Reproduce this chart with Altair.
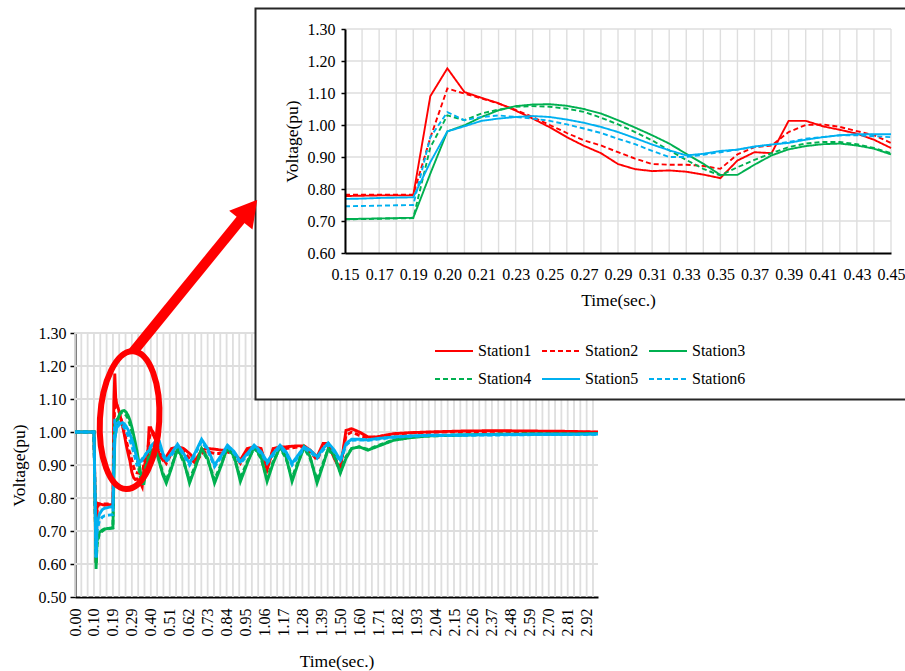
import altair as alt
import pandas as pd

FONT = "Liberation Serif"
STATIONS = ["Station1", "Station2", "Station3", "Station4", "Station5", "Station6"]
COLORS = ["#FF0000", "#FF0000", "#00B050", "#00B050", "#00B0F0", "#00B0F0"]
DASHES = [[1, 0], [5, 3], [1, 0], [5, 3], [1, 0], [5, 3]]

# ---------------- axis tick labels ----------------
MAIN_TICKS = [0.00, 0.10, 0.19, 0.29, 0.40, 0.51, 0.62, 0.73, 0.84, 0.95, 1.06, 1.17, 1.28, 1.39,
              1.50, 1.60, 1.71, 1.82, 1.93, 2.04, 2.15, 2.26, 2.37, 2.48, 2.59, 2.70, 2.81, 2.92]
MAIN_T_END = 2.985
MAIN_Y_TICKS = [0.50, 0.60, 0.70, 0.80, 0.90, 1.00, 1.10, 1.20, 1.30]
INSET_TICKS = [0.15, 0.17, 0.19, 0.20, 0.21, 0.23, 0.25, 0.27, 0.29, 0.31, 0.33, 0.35, 0.37,
               0.39, 0.41, 0.43, 0.45]
INSET_Y_TICKS = [0.60, 0.70, 0.80, 0.90, 1.00, 1.10, 1.20, 1.30]

# ---------------- data ----------------
PRE_T = [0.00, 0.10, 0.11, 0.115, 0.125, 0.14]
PRE_V = {
    "Station1": [1.0, 1.0, 0.66, 0.785, 0.782, 0.78],
    "Station2": [1.0, 1.0, 0.60, 0.77, 0.782, 0.782],
    "Station3": [1.0, 1.0, 0.585, 0.67, 0.695, 0.703],
    "Station4": [1.0, 1.0, 0.60, 0.66, 0.69, 0.70],
    "Station5": [1.0, 1.0, 0.62, 0.72, 0.75, 0.765],
    "Station6": [1.0, 1.0, 0.62, 0.70, 0.73, 0.742],
}

INSET_T = [0.15, 0.16, 0.17, 0.18, 0.19, 0.195, 0.20, 0.205, 0.21, 0.22, 0.23, 0.24, 0.25, 0.26,
           0.27, 0.28, 0.29, 0.30, 0.31, 0.32, 0.33, 0.34, 0.35, 0.36, 0.37, 0.38, 0.39, 0.40,
           0.41, 0.42, 0.43, 0.44, 0.45]
INSET_V = {
    "Station1": [0.778, 0.779, 0.78, 0.78, 0.78, 1.09, 1.177, 1.103, 1.085, 1.068, 1.045, 1.02,
                 0.993, 0.962, 0.935, 0.912, 0.878, 0.862, 0.856, 0.858, 0.854, 0.845, 0.834,
                 0.889, 0.915, 0.912, 1.013, 1.013, 0.996, 0.985, 0.973, 0.954, 0.928],
    "Station2": [0.782, 0.782, 0.782, 0.782, 0.782, 0.96, 1.114, 1.098, 1.083, 1.067, 1.047,
                 1.025, 1.0, 0.975, 0.952, 0.936, 0.915, 0.895, 0.878, 0.876, 0.876, 0.872,
                 0.863, 0.908, 0.931, 0.936, 0.978, 1.0, 1.002, 0.994, 0.981, 0.968, 0.944],
    "Station3": [0.706, 0.707, 0.708, 0.709, 0.71, 0.848, 0.98, 0.999, 1.025, 1.046, 1.059,
                 1.064, 1.065, 1.06, 1.05, 1.036, 1.015, 0.992, 0.968, 0.942, 0.91, 0.879,
                 0.844, 0.844, 0.876, 0.905, 0.924, 0.934, 0.94, 0.942, 0.936, 0.926, 0.908],
    "Station4": [0.705, 0.706, 0.707, 0.708, 0.709, 0.93, 1.03, 1.015, 1.036, 1.048, 1.057,
                 1.059, 1.057, 1.051, 1.041, 1.023, 1.002, 0.978, 0.952, 0.921, 0.891, 0.863,
                 0.842, 0.868, 0.891, 0.912, 0.931, 0.942, 0.947, 0.947, 0.94, 0.928, 0.912],
    "Station5": [0.769, 0.77, 0.772, 0.773, 0.774, 0.884, 0.98, 0.996, 1.013, 1.02, 1.025,
                 1.028, 1.025, 1.017, 1.007, 0.994, 0.978, 0.959, 0.939, 0.921, 0.905, 0.91,
                 0.919, 0.923, 0.933, 0.939, 0.944, 0.954, 0.962, 0.968, 0.971, 0.971, 0.971],
    "Station6": [0.746, 0.747, 0.748, 0.749, 0.75, 0.962, 1.04, 1.015, 1.025, 1.03, 1.025,
                 1.02, 1.013, 1.002, 0.989, 0.975, 0.957, 0.94, 0.919, 0.9, 0.9, 0.907, 0.915,
                 0.923, 0.931, 0.939, 0.947, 0.957, 0.962, 0.968, 0.968, 0.965, 0.962],
}

POST_T = [0.47, 0.49, 0.52, 0.555, 0.59, 0.625, 0.66, 0.695, 0.73, 0.77, 0.81, 0.845, 0.885,
          0.92, 0.96, 1.00, 1.04, 1.075, 1.11, 1.15, 1.185, 1.22, 1.255, 1.29, 1.325, 1.365,
          1.40, 1.43, 1.465, 1.50, 1.53, 1.56, 1.60, 1.65, 1.70, 1.80, 1.90, 2.00, 2.20, 2.40,
          2.60, 2.80, 2.985]
POST_V = {
    "Station1": [0.915, 0.925, 0.95, 0.955, 0.95, 0.935, 0.915, 0.945, 0.95, 0.948, 0.945,
                 0.945, 0.935, 0.915, 0.95, 0.955, 0.95, 0.885, 0.95, 0.955, 0.955, 0.957,
                 0.958, 0.958, 0.945, 0.925, 0.965, 0.965, 0.92, 0.885, 1.005, 1.01, 1.0,
                 0.985, 0.985, 0.995, 0.998, 1.0, 1.003, 1.004, 1.003, 1.002, 1.0],
    "Station2": [0.92, 0.905, 0.935, 0.94, 0.94, 0.92, 0.905, 0.935, 0.94, 0.935, 0.935, 0.94,
                 0.93, 0.905, 0.945, 0.95, 0.945, 0.895, 0.945, 0.95, 0.95, 0.952, 0.955,
                 0.955, 0.94, 0.915, 0.955, 0.96, 0.925, 0.89, 0.99, 1.0, 0.99, 0.982, 0.985,
                 0.993, 0.997, 0.999, 1.001, 1.002, 1.001, 1.0, 0.999],
    "Station3": [0.87, 0.845, 0.89, 0.95, 0.915, 0.845, 0.895, 0.95, 0.92, 0.845, 0.90, 0.955,
                 0.925, 0.85, 0.905, 0.955, 0.925, 0.85, 0.905, 0.955, 0.925, 0.85, 0.905,
                 0.955, 0.925, 0.845, 0.90, 0.95, 0.93, 0.875, 0.92, 0.95, 0.955, 0.945,
                 0.955, 0.975, 0.983, 0.988, 0.991, 0.993, 0.994, 0.994, 0.995],
    "Station4": [0.875, 0.855, 0.895, 0.948, 0.91, 0.855, 0.90, 0.948, 0.915, 0.855, 0.905,
                 0.952, 0.92, 0.86, 0.91, 0.952, 0.92, 0.86, 0.91, 0.952, 0.92, 0.86, 0.91,
                 0.952, 0.92, 0.855, 0.905, 0.948, 0.925, 0.88, 0.925, 0.95, 0.955, 0.947,
                 0.957, 0.976, 0.984, 0.988, 0.991, 0.993, 0.994, 0.994, 0.995],
    "Station5": [0.935, 0.915, 0.935, 0.963, 0.935, 0.905, 0.94, 0.978, 0.95, 0.9, 0.93, 0.96,
                 0.94, 0.91, 0.935, 0.96, 0.94, 0.91, 0.935, 0.96, 0.94, 0.905, 0.93, 0.955,
                 0.945, 0.925, 0.95, 0.967, 0.945, 0.915, 0.965, 0.978, 0.978, 0.976, 0.98,
                 0.985, 0.988, 0.99, 0.991, 0.992, 0.993, 0.993, 0.994],
    "Station6": [0.93, 0.91, 0.93, 0.958, 0.93, 0.90, 0.935, 0.972, 0.945, 0.895, 0.925, 0.955,
                 0.935, 0.905, 0.93, 0.955, 0.935, 0.905, 0.93, 0.955, 0.935, 0.90, 0.925,
                 0.95, 0.94, 0.92, 0.945, 0.962, 0.94, 0.91, 0.96, 0.975, 0.976, 0.975, 0.978,
                 0.984, 0.987, 0.989, 0.99, 0.991, 0.992, 0.992, 0.993],
}

# highlighted region on the main chart (time, voltage of the ellipse centre)
ELLIPSE_T, ELLIPSE_V = 0.278, 1.036

# ---------------- layout (pixels) ----------------
W, H = 905, 671
MX0, MSTEP, MX1 = 75.0, 18.95, 598.0
MY = [597, 333]
IX0, ISTEP = 345.0, 34.125
IY = [253, 29]
GRID = "#DEDEDE"
RED = "#FF0000"


def station_frame(times, values):
    rows = []
    for s in STATIONS:
        for t, v in zip(times, values[s]):
            rows.append({"t": t, "v": v, "station": s})
    return pd.DataFrame(rows)


main_times = PRE_T + INSET_T + POST_T
main_vals = {s: PRE_V[s] + INSET_V[s] + POST_V[s] for s in STATIONS}
main_df = station_frame(main_times, main_vals)
inset_df = station_frame(INSET_T, INSET_V)


def main_x():
    return alt.Scale(domain=MAIN_TICKS + [MAIN_T_END],
                     range=[MX0 + MSTEP * k for k in range(len(MAIN_TICKS))] + [MX1],
                     nice=False, zero=False)


def main_y():
    return alt.Scale(domain=[0.5, 1.3], range=MY, nice=False, zero=False)


def inset_x():
    return alt.Scale(domain=INSET_TICKS,
                     range=[IX0 + ISTEP * k for k in range(len(INSET_TICKS))],
                     nice=False, zero=False)


def inset_y():
    return alt.Scale(domain=[0.6, 1.3], range=IY, nice=False, zero=False)


color_scale = alt.Scale(domain=STATIONS, range=COLORS)
dash_scale = alt.Scale(domain=STATIONS, range=DASHES)

LEG = alt.Legend(title=None, orient="none", legendX=434, legendY=331, columns=3,
                 direction="horizontal",
                 symbolType="stroke", symbolSize=1444, symbolStrokeWidth=2,
                 labelFontSize=16, labelFont=FONT, labelColor="black", labelOffset=4,
                 columnPadding=6, rowPadding=-19, padding=0, labelLimit=0)

# main grid positions: three gridlines per label interval
last_px = MX0 + MSTEP * (len(MAIN_TICKS) - 1)
main_grid = []
for a, b in zip(MAIN_TICKS[:-1], MAIN_TICKS[1:]):
    main_grid += [a, a + (b - a) / 3, a + 2 * (b - a) / 3]
main_grid += [MAIN_TICKS[-1],
              MAIN_TICKS[-1] + (MAIN_T_END - MAIN_TICKS[-1]) * (MSTEP / 3) / (MX1 - last_px)]

# ---------------- main chart ----------------
mgv = pd.DataFrame({"t": main_grid, "lo": 0.5, "hi": 1.3})
main_vgrid = alt.Chart(mgv).mark_rule(color=GRID, strokeWidth=1.8).encode(
    x=alt.X("t:Q", scale=main_x(), axis=None),
    y=alt.Y("lo:Q", scale=main_y(), axis=None), y2="hi:Q")
mgh = pd.DataFrame({"v": MAIN_Y_TICKS[1:], "lo": 0.0, "hi": MAIN_T_END})
main_hgrid = alt.Chart(mgh).mark_rule(color=GRID, strokeWidth=1.8).encode(
    x=alt.X("lo:Q", scale=main_x(), axis=None), x2="hi:Q",
    y=alt.Y("v:Q", scale=main_y(), axis=None))

main_x_axis = alt.Axis(orient="bottom", offset=MY[0] - H, values=MAIN_TICKS, format=".2f",
                       labelAngle=270, labelAlign="right", labelBaseline="middle",
                       labelPadding=11, ticks=False, grid=False, domainWidth=2,
                       domainColor="black", labelOverlap=False, labelFlush=False,
                       labelBound=False, title="Time(sec.)", titlePadding=16)
main_y_axis = alt.Axis(orient="left", offset=-MX0, values=MAIN_Y_TICKS, format=".2f",
                       tickSize=5, tickWidth=1.5, tickColor="black", labelPadding=4,
                       grid=False, domainWidth=2, domainColor="black", labelOverlap=False,
                       labelFlush=False, title="Voltage(pu)", titlePadding=10)

main_lines = alt.Chart(main_df).mark_line(strokeWidth=2.9).encode(
    x=alt.X("t:Q", scale=main_x(), axis=main_x_axis),
    y=alt.Y("v:Q", scale=main_y(), axis=main_y_axis),
    color=alt.Color("station:N", scale=color_scale, legend=LEG),
    strokeDash=alt.StrokeDash("station:N", scale=dash_scale, legend=LEG),
)

ELLIPSE_PATH = "M0,-1A0.43,1,0,1,1,0,1A0.43,1,0,1,1,0,-1Z"
ellipse = alt.Chart(pd.DataFrame({"t": [ELLIPSE_T], "v": [ELLIPSE_V]})).mark_point(
    shape=ELLIPSE_PATH, size=19044, filled=False, stroke=RED, strokeWidth=6,
    opacity=1, angle=3).encode(
    x=alt.X("t:Q", scale=main_x(), axis=None),
    y=alt.Y("v:Q", scale=main_y(), axis=None))

# ---------------- inset ----------------
one = pd.DataFrame({"k": [0]})
box = alt.Chart(one).mark_rect(fill="white", stroke="#262626", strokeWidth=2).encode(
    x=alt.value(255.5), x2=alt.value(930), y=alt.value(8.5), y2=alt.value(399.5))

igv = pd.DataFrame({"t": INSET_T, "lo": 0.6, "hi": 1.3})
inset_vgrid = alt.Chart(igv).mark_rule(color=GRID, strokeWidth=1.4).encode(
    x=alt.X("t:Q", scale=inset_x(), axis=None),
    y=alt.Y("lo:Q", scale=inset_y(), axis=None), y2="hi:Q")
igh = pd.DataFrame({"v": INSET_Y_TICKS[1:], "lo": INSET_TICKS[0], "hi": INSET_TICKS[-1]})
inset_hgrid = alt.Chart(igh).mark_rule(color=GRID, strokeWidth=1.4).encode(
    x=alt.X("lo:Q", scale=inset_x(), axis=None), x2="hi:Q",
    y=alt.Y("v:Q", scale=inset_y(), axis=None))

inset_x_axis = alt.Axis(orient="bottom", offset=IY[0] - H, values=INSET_TICKS, format=".2f",
                        labelAngle=0, labelPadding=13, ticks=False, grid=False,
                        domainWidth=2, domainColor="black", labelOverlap=False,
                        labelFlush=False, labelBound=False, title="Time(sec.)",
                        titlePadding=9, zindex=1)
inset_y_axis = alt.Axis(orient="left", offset=-IX0, values=INSET_Y_TICKS, format=".2f",
                        tickSize=4, tickWidth=1.5, tickColor="black", labelPadding=6,
                        grid=False, domainWidth=2, domainColor="black", labelOverlap=False,
                        labelFlush=False, title="Voltage(pu)", titlePadding=6, zindex=1)

inset_lines = alt.Chart(inset_df).mark_line(strokeWidth=1.9).encode(
    x=alt.X("t:Q", scale=inset_x(), axis=inset_x_axis),
    y=alt.Y("v:Q", scale=inset_y(), axis=inset_y_axis),
    color=alt.Color("station:N", scale=color_scale, legend=LEG),
    strokeDash=alt.StrokeDash("station:N", scale=dash_scale, legend=LEG),
)

# ---------------- arrow ----------------
shaft = alt.Chart(one).mark_rule(color=RED, strokeWidth=10, strokeCap="butt").encode(
    x=alt.value(133), y=alt.value(352), x2=alt.value(247), y2=alt.value(212))
head = alt.Chart(one).mark_point(shape="triangle-up", filled=True, color=RED, size=900,
                                 angle=39, opacity=1).encode(
    x=alt.value(249), y=alt.value(210))

chart = alt.layer(main_vgrid, main_hgrid, main_lines, ellipse, box,
                  inset_vgrid, inset_hgrid, inset_lines, shaft, head).resolve_scale(
    x="independent", y="independent").resolve_axis(
    x="independent", y="independent").properties(
    width=W, height=H, padding=0, autosize=alt.AutoSizeParams(type="none")
).configure(background="white", font=FONT).configure_view(strokeWidth=0).configure_axis(
    labelFont=FONT, titleFont=FONT, labelColor="black", titleColor="black",
    labelFontSize=16, titleFontSize=17.5, titleFontWeight="normal"
).configure_legend(labelFont=FONT)

chart.save("out.html", embed_options={"renderer": "svg", "actions": False})
